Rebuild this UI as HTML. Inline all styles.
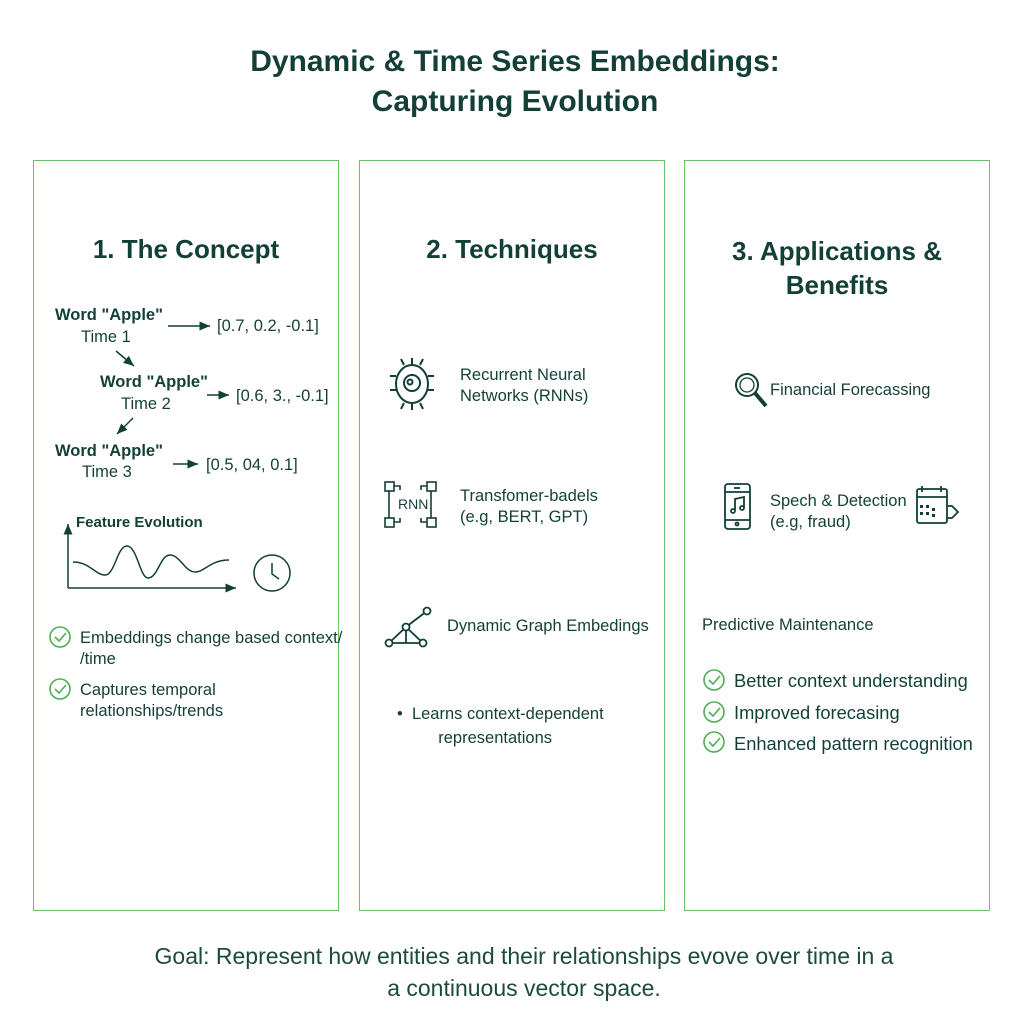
<!DOCTYPE html>
<html><head><meta charset="utf-8"><style>
body{margin:0;width:1024px;height:1024px;background:#fff;position:relative;font-family:"Liberation Sans",sans-serif;color:#123f36;overflow:hidden}
.a{position:absolute;white-space:nowrap}
.p{position:absolute;top:160px;width:306px;height:751px;border:1.5px solid #6cbf6a;box-sizing:border-box}
.h{font-weight:bold;font-size:26px;text-align:center}
.t{font-size:16.5px}
.b{font-weight:bold;font-size:16.5px}
</style></head><body>
<div class="a" style="left:0;width:1030px;top:42px;text-align:center;font-size:30px;font-weight:bold;line-height:40px;color:#133f37">Dynamic &amp; Time Series Embeddings:<br>Capturing Evolution</div>
<div class="p" style="left:33px"></div>
<div class="p" style="left:359px"></div>
<div class="p" style="left:684px"></div>
<div class="a h" style="left:33px;width:306px;top:234px">1. The Concept</div>
<div class="a h" style="left:359px;width:306px;top:234px">2. Techniques</div>
<div class="a h" style="left:684px;width:306px;top:234px;line-height:34px">3. Applications &amp;<br>Benefits</div>

<div class="a b" style="left:55px;top:306px">Word "Apple"</div>
<div class="a t" style="left:81px;top:328px">Time 1</div>
<div class="a t" style="left:217px;top:317px">[0.7, 0.2, -0.1]</div>
<div class="a b" style="left:100px;top:373px">Word "Apple"</div>
<div class="a t" style="left:121px;top:395px">Time 2</div>
<div class="a t" style="left:236px;top:387px">[0.6, 3., -0.1]</div>
<div class="a b" style="left:55px;top:442px">Word "Apple"</div>
<div class="a t" style="left:82px;top:463px">Time 3</div>
<div class="a t" style="left:206px;top:456px">[0.5, 04, 0.1]</div>
<div class="a b" style="left:76px;top:514px;font-size:15px">Feature Evolution</div>
<svg class="a" style="left:0;top:0" width="1024" height="1024" fill="none" stroke="#123f36" stroke-width="1.5">
<defs><marker id="m" markerWidth="8" markerHeight="8" refX="7" refY="4" orient="auto"><path d="M0,1 L7,4 L0,7z" fill="#123f36" stroke="none"/></marker></defs>
<line x1="168" y1="326" x2="210" y2="326" marker-end="url(#m)"/>
<line x1="116" y1="351" x2="134" y2="366" marker-end="url(#m)"/>
<line x1="207" y1="395" x2="229" y2="395" marker-end="url(#m)"/>
<line x1="133" y1="418" x2="117" y2="434" marker-end="url(#m)"/>
<line x1="173" y1="464" x2="198" y2="464" marker-end="url(#m)"/>
<line x1="68" y1="588" x2="68" y2="524" marker-end="url(#m)"/>
<line x1="68" y1="588" x2="236" y2="588" marker-end="url(#m)"/>
<path d="M73,562 C90,562 95,575 105,575 C115,575 117,546 127,546 C137,546 140,578 148,578 C158,578 160,555 170,555 C180,555 185,572 195,572 C205,572 210,560 229,560"/>
<circle cx="272" cy="573" r="18"/><path d="M272,563 L272,574 L279,579"/>
<g stroke="#4caf50" stroke-width="1.6"><circle cx="60" cy="637" r="10"/><path d="M55,637 l4,4 l7,-8"/><circle cx="60" cy="689" r="10"/><path d="M55,689 l4,4 l7,-8"/>
<circle cx="714" cy="680" r="10"/><path d="M709,680 l4,4 l7,-8"/><circle cx="714" cy="712" r="10"/><path d="M709,712 l4,4 l7,-8"/><circle cx="714" cy="742" r="10"/><path d="M709,742 l4,4 l7,-8"/></g>
<g stroke-width="2"><ellipse cx="412" cy="384" rx="16" ry="19"/><circle cx="412" cy="383" r="8"/><circle cx="410" cy="382" r="2.5"/>
<path d="M404,365 l-3,-6 M412,365 v-7 M420,365 l3,-6 M396,376 h-6 M396,390 h-6 M428,376 h6 M428,390 h6 M404,403 l-3,6 M412,403 v7 M420,403 l3,6"/></g>
<g stroke-width="1.6"><rect x="385" y="482" width="9" height="9"/><rect x="427" y="482" width="9" height="9"/><rect x="385" y="518" width="9" height="9"/><rect x="427" y="518" width="9" height="9"/>
<path d="M394,486 h6 v4 M427,486 h-6 v4 M394,522 h6 v-4 M427,522 h-6 v-4 M389,491 v27 M431,491 v27"/></g>
<g stroke-width="1.8"><path d="M389,643 L406,627 L423,643 Z M406,627 V643 M406,627 L427,611"/><circle cx="389" cy="643" r="3.5" fill="#fff"/><circle cx="423" cy="643" r="3.5" fill="#fff"/><circle cx="406" cy="627" r="3.5" fill="#fff"/><circle cx="427" cy="611" r="3.5" fill="#fff"/></g>
<g stroke-width="2"><circle cx="747" cy="385" r="11"/><circle cx="747" cy="385" r="7" stroke-width="1.3"/><path d="M755,393 L766,406" stroke-width="4"/></g>
<g stroke-width="1.8"><rect x="725" y="484" width="25" height="45" rx="3"/><path d="M725,492 h25 M725,520 h25 M734,488 h6"/><circle cx="737" cy="524" r="1.5"/><path d="M735,510 V499 L744,497 V507"/><circle cx="733" cy="511" r="2"/><circle cx="742" cy="508" r="2"/>
<rect x="917" y="489" width="30" height="34" rx="2"/><path d="M917,497 h30 M922,486 v6 M941,486 v6 M947,506 h5 l6,6 l-6,6 h-5"/><g fill="#123f36" stroke="none"><rect x="920" y="505" width="3" height="3"/><rect x="926" y="505" width="3" height="3"/><rect x="920" y="512" width="3" height="3"/><rect x="926" y="512" width="3" height="3"/><rect x="932" y="508" width="3" height="3"/><rect x="932" y="514" width="3" height="3"/></g></g>
</svg>
<div class="a t" style="left:80px;top:628px;line-height:21px">Embeddings change based context/<br>/time</div>
<div class="a t" style="left:80px;top:680px;line-height:21px">Captures temporal<br>relationships/trends</div>
<div class="a t" style="left:460px;top:365px;line-height:21px">Recurrent Neural<br>Networks (RNNs)</div>
<div class="a" style="left:398px;top:496px;font-size:14px">RNN</div>
<div class="a t" style="left:460px;top:486px;line-height:21px">Transfomer-badels<br>(e.g, BERT, GPT)</div>
<div class="a t" style="left:447px;top:617px">Dynamic Graph Embedings</div>
<div class="a t" style="left:397px;top:702px;line-height:24px">•&nbsp;&nbsp;Learns context-dependent<br>&nbsp;&nbsp;&nbsp;&nbsp;&nbsp;&nbsp;&nbsp;&nbsp;&nbsp;representations</div>
<div class="a t" style="left:770px;top:381px">Financial Forecassing</div>
<div class="a t" style="left:770px;top:491px;line-height:21px">Spech &amp; Detection<br>(e.g, fraud)</div>
<div class="a t" style="left:702px;top:616px">Predictive Maintenance</div>
<div class="a" style="left:734px;top:670px;font-size:18.3px">Better context understanding</div>
<div class="a" style="left:734px;top:702px;font-size:18.3px">Improved forecasing</div>
<div class="a" style="left:734px;top:733px;font-size:18.3px">Enhanced pattern recognition</div>
<div class="a" style="left:0;width:1048px;top:940px;text-align:center;font-size:23px;line-height:32px;color:#1d4a40">Goal: Represent how entities and their relationships evove over time in a<br>a continuous vector space.</div>
</body></html>
